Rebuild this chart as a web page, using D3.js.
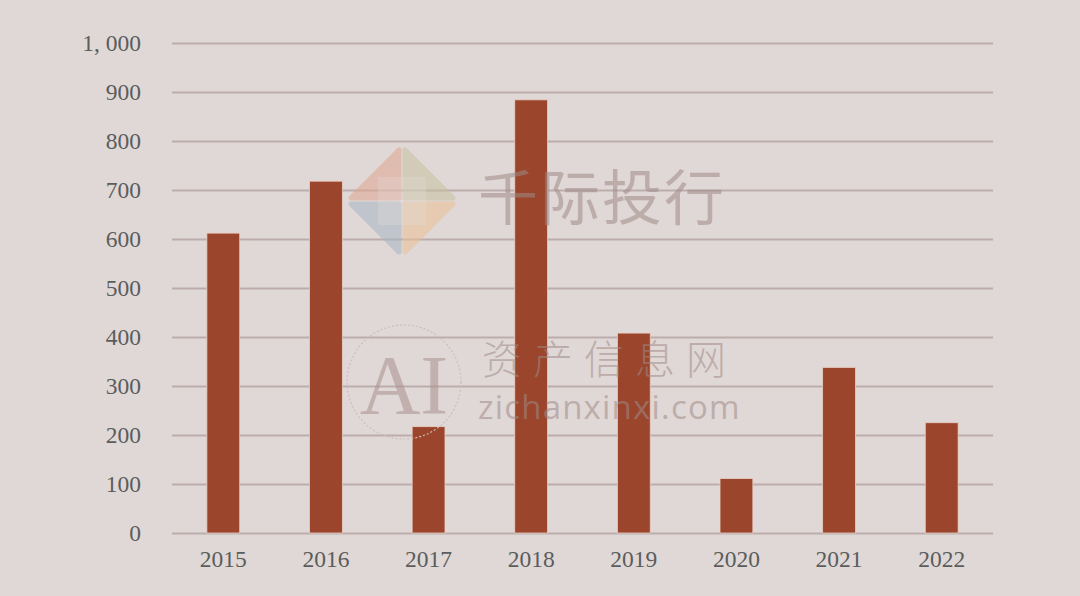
<!DOCTYPE html>
<html>
<head>
<meta charset="utf-8">
<script src="https://cdn.jsdelivr.net/npm/d3@7"></script>
<style>
html,body{margin:0;padding:0;background:#e0d8d6;}
svg{display:block;}
</style>
</head>
<body>
<svg id="chart" width="1080" height="596"></svg>
<script>
const years = ["2015","2016","2017","2018","2019","2020","2021","2022"];
const values = [612, 718, 217, 884, 408, 111, 338, 225];
const yTicks = [0,100,200,300,400,500,600,700,800,900,1000];

const W = 1080, H = 596;
const m = {left:172, right:87, top:43, bottom:63};
const svg = d3.select("#chart");
svg.append("rect").attr("width",W).attr("height",H).attr("fill","#e0d8d6");

const x = d3.scaleBand().domain(years).range([m.left, W - m.right]).paddingInner(0.68).paddingOuter(0.34);
const y = d3.scaleLinear().domain([0,1000]).range([H - m.bottom, m.top]);

const fontSerif = "'Liberation Serif','DejaVu Serif',serif";

// y axis with grid
const yAxis = svg.append("g").attr("transform",`translate(${m.left},0)`)
  .call(d3.axisLeft(y).tickValues(yTicks).tickSize(-(W - m.right - m.left)).tickPadding(31)
    .tickFormat(d => d === 1000 ? "1, 000" : String(d)));
yAxis.select(".domain").remove();
yAxis.selectAll(".tick line").attr("stroke","#bcadac").attr("stroke-width",2);
yAxis.selectAll(".tick text").attr("fill","#5a5d5c").attr("font-family",fontSerif).attr("font-size",23.5);

// bars
svg.append("g").selectAll("rect").data(years).join("rect")
  .attr("x", d => x(d))
  .attr("y", (d,i) => y(values[i]))
  .attr("width", x.bandwidth())
  .attr("height", (d,i) => y(0) - y(values[i]))
  .attr("fill","#9a452c")
  .attr("stroke","#e8cfc4").attr("stroke-width",0.8);

// x axis
const xAxis = svg.append("g").attr("transform",`translate(0,${y(0)})`)
  .call(d3.axisBottom(x).tickSize(0).tickPadding(17));
xAxis.select(".domain").remove();
xAxis.selectAll(".tick text").attr("fill","#5a5d5c").attr("font-family",fontSerif).attr("font-size",23.5);

// watermarks
const wm = svg.append("g").attr("pointer-events","none");
const cx = 402, cy = 201, r = 51;
const pieces = [
  {pts:[[cx-r,cy-3],[cx-3,cy-r],[cx-3,cy-3]], c:"#e0a590"},
  {pts:[[cx+3,cy-r],[cx+r,cy-3],[cx+3,cy-3]], c:"#c6c19e"},
  {pts:[[cx-r,cy+3],[cx-3,cy+3],[cx-3,cy+r]], c:"#a7b5c4"},
  {pts:[[cx+3,cy+3],[cx+r,cy+3],[cx+3,cy+r]], c:"#ebc096"}
];
pieces.forEach(p => {
  wm.append("path").attr("d", d3.line()(p.pts) + "Z")
    .attr("fill", p.c).attr("stroke", p.c).attr("stroke-width", 5)
    .attr("stroke-linejoin","round").attr("opacity",0.55);
});
wm.append("rect").attr("x",cx-24).attr("y",cy-24).attr("width",48).attr("height",48)
  .attr("fill","#e6dfdc").attr("opacity",0.3);
wm.append("text").attr("x",478).attr("y",220).text("千际投行")
  .attr("font-family","'Noto Sans CJK SC',sans-serif").attr("font-weight",400)
  .attr("font-size",60).attr("fill","#a08a88").attr("opacity",0.55).attr("letter-spacing",2);
wm.append("circle").attr("cx",404).attr("cy",382).attr("r",57)
  .attr("fill","none").attr("stroke","#cbbfbd").attr("stroke-width",1.2).attr("stroke-dasharray","2,2");
wm.append("text").attr("x",404).attr("y",414).attr("text-anchor","middle").text("AI")
  .attr("font-family",fontSerif).attr("font-size",84).attr("fill","#a8918f").attr("opacity",0.55);
wm.append("text").attr("x",482).attr("y",374).text("资产信息网")
  .attr("font-family","'Noto Sans CJK SC',sans-serif").attr("font-weight",300)
  .attr("font-size",40).attr("letter-spacing",11).attr("fill","#a08a88").attr("opacity",0.55);
wm.append("text").attr("x",478).attr("y",419).text("zichanxinxi.com")
  .attr("font-family","'Open Sans','DejaVu Sans',sans-serif")
  .attr("font-size",33).attr("letter-spacing",1.2).attr("fill","#a08a88").attr("opacity",0.55);
</script>
</body>
</html>
